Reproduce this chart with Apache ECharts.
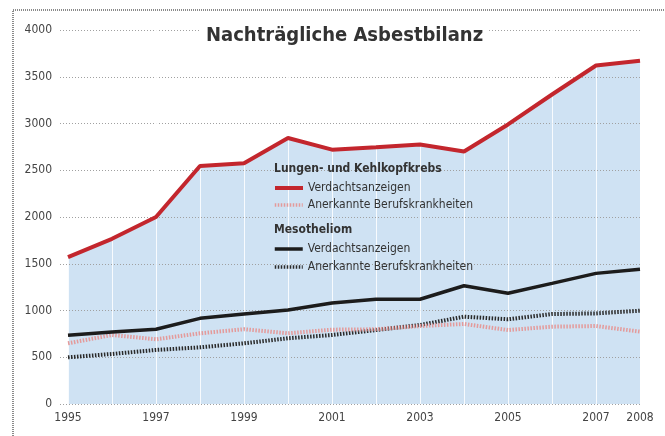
<!DOCTYPE html>
<html>
<head>
<meta charset="utf-8">
<script src="https://cdn.jsdelivr.net/npm/echarts@6/dist/echarts.min.js"></script>
<style>
html,body{margin:0;padding:0;background:#fff;}
#chart{width:665px;height:436px;}
</style>
</head>
<body>
<div id="chart"></div>
<script>
const years = ['1995','1996','1997','1998','1999','2000','2001','2002','2003','2004','2005','2006','2007','2008'];
const lungeVerdacht = [1570, 1767, 2000, 2545, 2575, 2845, 2720, 2745, 2775, 2700, 2990, 3310, 3620, 3670];
const lungeAnerkannt = [649, 738, 692, 756, 800, 756, 795, 799, 834, 856, 791, 827, 834, 774];
const mesoVerdacht = [735, 770, 799, 916, 962, 1005, 1080, 1120, 1120, 1265, 1184, 1290, 1397, 1440];
const mesoAnerkannt = [499, 535, 578, 606, 649, 703, 738, 791, 845, 934, 906, 962, 969, 998];
const yTicks = [0, 500, 1000, 1500, 2000, 2500, 3000, 3500, 4000];
const titleText = 'Nachträgliche Asbestbilanz';
const group1 = 'Lungen- und Kehlkopfkrebs';
const group2 = 'Mesotheliom';
const labelVerdacht = 'Verdachtsanzeigen';
const labelAnerkannt = 'Anerkannte Berufskrankheiten';

const FONT = '"DejaVu Sans Condensed", "Liberation Sans Narrow", "DejaVu Sans", sans-serif';
const chart = echarts.init(document.getElementById('chart'));

const names = {
  LV: 'Lunge ' + labelVerdacht,
  LA: 'Lunge ' + labelAnerkannt,
  MV: 'Meso ' + labelVerdacht,
  MA: 'Meso ' + labelAnerkannt
};
const display = {};
display[names.LV] = labelVerdacht;
display[names.LA] = labelAnerkannt;
display[names.MV] = labelVerdacht;
display[names.MA] = labelAnerkannt;

function legendAt(name, top, lineWidth) {
  return {
    data: [name], left: 273, top: top, padding: 0,
    itemWidth: 28, itemHeight: 14, itemGap: 0,
    selectedMode: false,
    itemStyle: { opacity: 0, borderWidth: 0 },
    lineStyle: { width: lineWidth },
    formatter: (n) => display[n],
    textStyle: { fontFamily: FONT, fontSize: 12, color: '#333' }
  };
}

chart.setOption({
  animation: false,
  backgroundColor: '#fff',
  title: {
    text: titleText, left: 200, top: 24,
    padding: [2, 6, 2, 6],
    backgroundColor: '#fff',
    textStyle: { fontFamily: FONT, fontSize: 20, fontWeight: 'bold', color: '#333' }
  },
  legend: [
    legendAt(names.LV, 182, 4),
    legendAt(names.LA, 199, 3.5),
    legendAt(names.MV, 243, 3.5),
    legendAt(names.MA, 261, 3.5)
  ],
  grid: [
    { left: 60, right: 25, top: 30, bottom: 32 },
    { left: 68, right: 25, top: 30, bottom: 32 }
  ],
  xAxis: [
    { type: 'value', gridIndex: 0, show: false, min: 0, max: 1 },
    {
      type: 'category', gridIndex: 1, data: years, boundaryGap: false, z: 1.5,
      axisLine: { show: false }, axisTick: { show: false },
      axisLabel: {
        interval: (i) => i % 2 === 0 || i === years.length - 1,
        margin: 8, fontFamily: FONT, fontSize: 12, color: '#444'
      },
      splitLine: { show: true, interval: 0, lineStyle: { color: 'rgba(255,255,255,0.85)', width: 1 } }
    }
  ],
  yAxis: [
    {
      type: 'value', gridIndex: 0, min: yTicks[0], max: yTicks[yTicks.length - 1], interval: 500, z: 1.5,
      axisLine: { show: false }, axisTick: { show: false },
      axisLabel: { margin: 8, fontFamily: FONT, fontSize: 12, color: '#444', formatter: (v) => String(v) },
      splitLine: { show: true, lineStyle: { color: '#a0a0a0', width: 1, type: [1, 2] } }
    },
    {
      type: 'value', gridIndex: 1, min: yTicks[0], max: yTicks[yTicks.length - 1], interval: 500,
      show: false, splitLine: { show: false }
    }
  ],
  graphic: [
    {
      type: 'polyline', z: 0, silent: true,
      shape: { points: [[13, 436], [13, 10], [665, 10]] },
      style: { stroke: '#8a8a8a', lineWidth: 2, lineDash: [1, 1], fill: null }
    },
    {
      type: 'text', left: 274, top: 163, z: 10,
      style: { text: group1, font: 'bold 12px ' + FONT, fill: '#333' }
    },
    {
      type: 'text', left: 274, top: 224, z: 10,
      style: { text: group2, font: 'bold 12px ' + FONT, fill: '#333' }
    }
  ],
  series: [
    {
      name: 'area', type: 'line', xAxisIndex: 1, yAxisIndex: 1, z: 1,
      data: lungeVerdacht, symbol: 'none', silent: true,
      lineStyle: { width: 0 },
      areaStyle: { color: '#cfe2f3', opacity: 1 }
    },
    {
      name: names.MA, type: 'line', xAxisIndex: 1, yAxisIndex: 1,
      data: mesoAnerkannt, symbol: 'none',
      lineStyle: { color: '#2a2a2a', width: 4, type: [1.5, 1.5] }, itemStyle: { color: '#2a2a2a' }
    },
    {
      name: names.LA, type: 'line', xAxisIndex: 1, yAxisIndex: 1,
      data: lungeAnerkannt, symbol: 'none',
      lineStyle: { color: '#e49a9a', width: 4, type: [1.5, 1.5] }, itemStyle: { color: '#e49a9a' }
    },
    {
      name: names.MV, type: 'line', xAxisIndex: 1, yAxisIndex: 1,
      data: mesoVerdacht, symbol: 'none',
      lineStyle: { color: '#1c1c1c', width: 3.5 }, itemStyle: { color: '#1c1c1c' }
    },
    {
      name: names.LV, type: 'line', xAxisIndex: 1, yAxisIndex: 1,
      data: lungeVerdacht, symbol: 'none',
      lineStyle: { color: '#c3262d', width: 4 }, itemStyle: { color: '#c3262d' }
    }
  ]
});
</script>
</body>
</html>
